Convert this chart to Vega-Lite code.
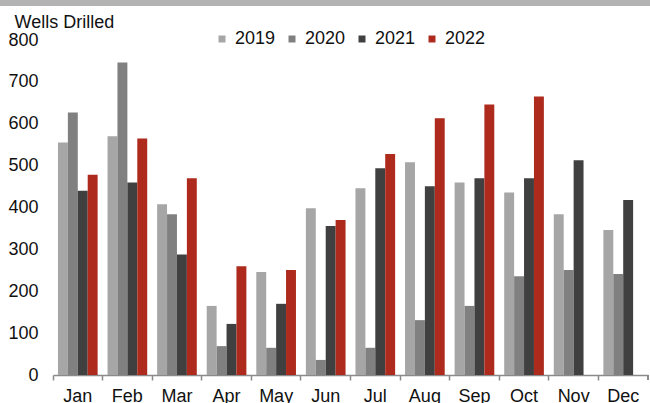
{
  "$schema": "https://vega.github.io/schema/vega-lite/v6.json",
  "autosize": {"type": "none"},
  "width": 650,
  "height": 335,
  "padding": {"left": 0, "top": 40, "right": 0, "bottom": 28},
  "background": "white",
  "config": {
    "font": "Liberation Sans",
    "view": {"stroke": null},
    "axis": {"grid": false, "labelFont": "Liberation Sans", "labelColor": "#111111", "labelFontSize": 18}
  },
  "data": {
    "values": [
      {"month": "Jan", "year": "2019", "wells": 555},
      {"month": "Jan", "year": "2020", "wells": 627},
      {"month": "Jan", "year": "2021", "wells": 440},
      {"month": "Jan", "year": "2022", "wells": 478},
      {"month": "Feb", "year": "2019", "wells": 570},
      {"month": "Feb", "year": "2020", "wells": 746},
      {"month": "Feb", "year": "2021", "wells": 460},
      {"month": "Feb", "year": "2022", "wells": 565},
      {"month": "Mar", "year": "2019", "wells": 408},
      {"month": "Mar", "year": "2020", "wells": 384},
      {"month": "Mar", "year": "2021", "wells": 288},
      {"month": "Mar", "year": "2022", "wells": 470},
      {"month": "Apr", "year": "2019", "wells": 165},
      {"month": "Apr", "year": "2020", "wells": 69},
      {"month": "Apr", "year": "2021", "wells": 122},
      {"month": "Apr", "year": "2022", "wells": 260},
      {"month": "May", "year": "2019", "wells": 246},
      {"month": "May", "year": "2020", "wells": 65},
      {"month": "May", "year": "2021", "wells": 170},
      {"month": "May", "year": "2022", "wells": 251},
      {"month": "Jun", "year": "2019", "wells": 398},
      {"month": "Jun", "year": "2020", "wells": 36},
      {"month": "Jun", "year": "2021", "wells": 356},
      {"month": "Jun", "year": "2022", "wells": 370},
      {"month": "Jul", "year": "2019", "wells": 446},
      {"month": "Jul", "year": "2020", "wells": 65},
      {"month": "Jul", "year": "2021", "wells": 494},
      {"month": "Jul", "year": "2022", "wells": 528},
      {"month": "Aug", "year": "2019", "wells": 508},
      {"month": "Aug", "year": "2020", "wells": 131},
      {"month": "Aug", "year": "2021", "wells": 451},
      {"month": "Aug", "year": "2022", "wells": 613},
      {"month": "Sep", "year": "2019", "wells": 460},
      {"month": "Sep", "year": "2020", "wells": 165},
      {"month": "Sep", "year": "2021", "wells": 470},
      {"month": "Sep", "year": "2022", "wells": 646},
      {"month": "Oct", "year": "2019", "wells": 436},
      {"month": "Oct", "year": "2020", "wells": 236},
      {"month": "Oct", "year": "2021", "wells": 470},
      {"month": "Oct", "year": "2022", "wells": 665},
      {"month": "Nov", "year": "2019", "wells": 384},
      {"month": "Nov", "year": "2020", "wells": 251},
      {"month": "Nov", "year": "2021", "wells": 513},
      {"month": "Dec", "year": "2019", "wells": 346},
      {"month": "Dec", "year": "2020", "wells": 241},
      {"month": "Dec", "year": "2021", "wells": 418}
    ]
  },
  "layer": [
    {
      "mark": {"type": "rule", "color": "#b3b3b3", "strokeWidth": 5},
      "encoding": {
        "y": {"datum": 889, "type": "quantitative"}
      }
    },
    {
      "mark": {"type": "bar"},
      "encoding": {
        "x": {
          "field": "month",
          "type": "nominal",
          "sort": ["Jan", "Feb", "Mar", "Apr", "May", "Jun", "Jul", "Aug", "Sep", "Oct", "Nov", "Dec"],
          "scale": {"paddingInner": 0, "paddingOuter": 0, "range": [53, 648]},
          "axis": {
            "title": null,
            "labelAngle": 0,
            "bandPosition": 0,
            "labelPadding": 7,
            "tickSize": 5,
            "tickColor": "#8a8a8a",
            "tickWidth": 1.5,
            "domainColor": "#8a8a8a",
            "domainWidth": 1.5
          }
        },
        "xOffset": {
          "field": "year",
          "type": "nominal",
          "scale": {"paddingInner": 0, "paddingOuter": 0.5}
        },
        "y": {
          "field": "wells",
          "type": "quantitative",
          "scale": {"domain": [0, 800], "nice": false},
          "axis": {
            "values": [0, 100, 200, 300, 400, 500, 600, 700, 800],
            "offset": -53,
            "domain": false,
            "ticks": false,
            "tickSize": 0,
            "labelPadding": 15,
            "title": "Wells Drilled",
            "titleAngle": 0,
            "titleAlign": "left",
            "titleBaseline": "alphabetic",
            "titleX": -39,
            "titleY": -13,
            "titleFont": "Liberation Sans",
            "titleFontSize": 18,
            "titleFontWeight": "normal",
            "titleColor": "#111111"
          }
        },
        "color": {
          "field": "year",
          "type": "nominal",
          "scale": {
            "domain": ["2019", "2020", "2021", "2022"],
            "range": ["#a6a6a6", "#808080", "#404040", "#ad2a1c"]
          },
          "legend": {
            "title": null,
            "orient": "none",
            "direction": "horizontal",
            "columns": 4,
            "legendX": 213,
            "legendY": -10,
            "padding": 0,
            "symbolType": "square",
            "symbolSize": 49,
            "symbolStrokeWidth": 0,
            "labelFont": "Liberation Sans",
            "labelFontSize": 18,
            "labelColor": "#111111",
            "labelOffset": 4,
            "columnPadding": 7
          }
        }
      }
    },
    {
      "mark": {"type": "rule", "color": "#8a8a8a", "strokeWidth": 1.5},
      "encoding": {
        "x": {"datum": "Dec", "type": "nominal", "bandPosition": 1},
        "y": {"datum": 0, "type": "quantitative"},
        "y2": {"datum": -12}
      }
    }
  ]
}
